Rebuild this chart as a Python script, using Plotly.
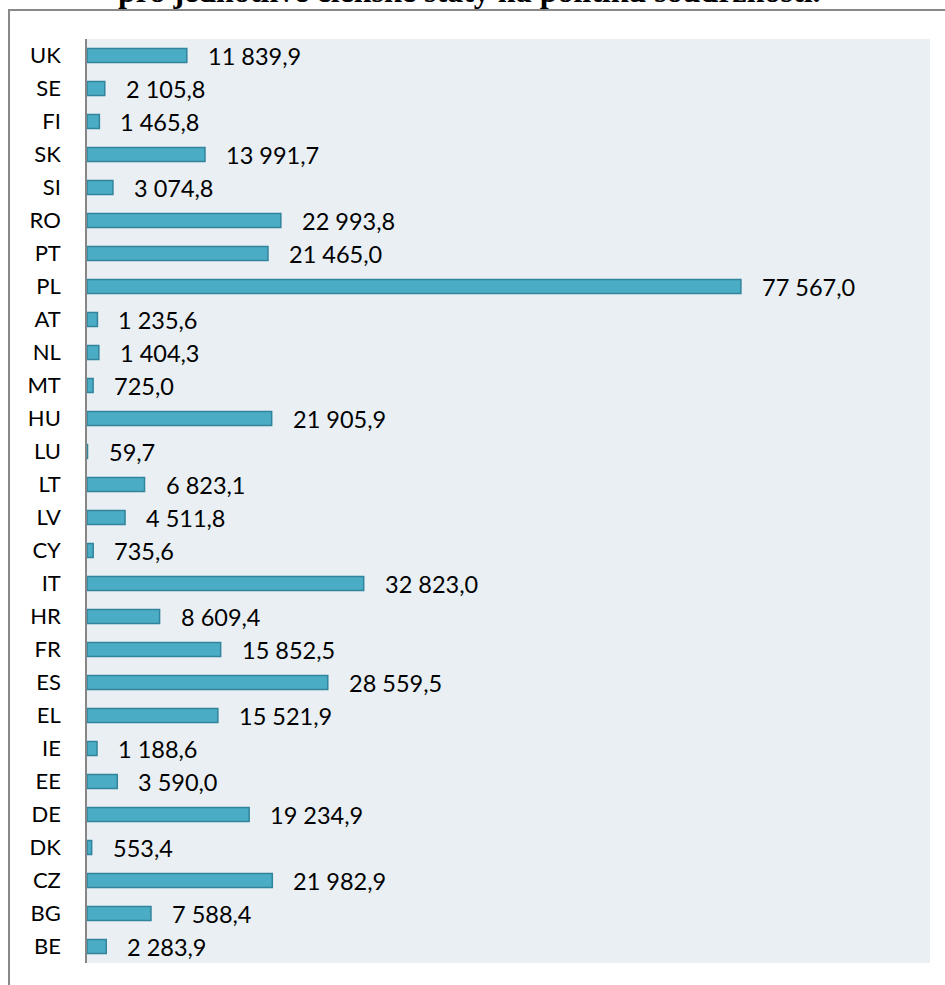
import plotly.graph_objects as go

countries = ["BE", "BG", "CZ", "DK", "DE", "EE", "IE", "EL", "ES", "FR", "HR", "IT", "CY", "LV",
             "LT", "LU", "HU", "MT", "NL", "AT", "PL", "PT", "RO", "SI", "SK", "FI", "SE", "UK"]
values = [2283.9, 7588.4, 21982.9, 553.4, 19234.9, 3590.0, 1188.6, 15521.9, 28559.5, 15852.5,
          8609.4, 32823.0, 735.6, 4511.8, 6823.1, 59.7, 21905.9, 725.0, 1404.3, 1235.6,
          77567.0, 21465.0, 22993.8, 3074.8, 13991.7, 1465.8, 2105.8, 11839.9]
title_text = "pro jednotlivé členské státy na politiku soudržnosti."


def fmt(v):
    return f"{v:,.1f}".replace(",", " ").replace(".", ",")


FONT = "Lato"

fig = go.Figure()
fig.add_trace(go.Bar(
    x=values, y=countries, orientation="h",
    marker=dict(color="#4BACC6", line=dict(color="#31849B", width=1.5)),
    hoverinfo="skip",
))

annotations = []
for c, v in zip(countries, values):
    annotations.append(dict(x=v, y=c, xref="x", yref="y", text=fmt(v), showarrow=False,
                            xanchor="left", yanchor="middle", xshift=19,
                            font=dict(family=FONT, size=23.5, color="#000000")))
annotations.append(dict(x=0.454, y=1.0308, xref="paper", yref="paper", text="<b>" + title_text + "</b>",
                        showarrow=False, xanchor="center", yanchor="bottom",
                        font=dict(family="Liberation Serif", size=32, color="#000000")))

fig.update_layout(
    width=945, height=985,
    margin=dict(l=87, r=15, t=39, b=22),
    paper_bgcolor="#FFFFFF",
    plot_bgcolor="#E9EFF3",
    bargap=0.576,
    showlegend=False,
    annotations=annotations,
    shapes=[dict(type="rect", xref="paper", yref="paper", x0=-0.0925, x1=1.03, y0=-0.04, y1=1.0314,
                 line=dict(color="#888888", width=2), fillcolor="rgba(0,0,0,0)", layer="above")],
    xaxis=dict(range=[0, 100000], showgrid=False, zeroline=False, showticklabels=False,
               showline=False, fixedrange=True),
    yaxis=dict(showgrid=False, zeroline=False, showline=True, linecolor="#868686", linewidth=1.5,
               ticks="", ticklabelstandoff=20,
               tickfont=dict(family=FONT, size=22, color="#000000"), fixedrange=True),
)

fig.write_html("out.html", config={"displayModeBar": False},
               post_script="document.body.style.margin='0px';")
